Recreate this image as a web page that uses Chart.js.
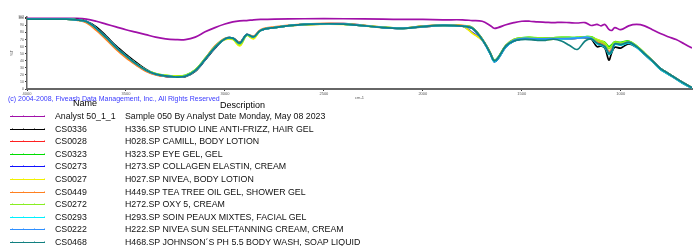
<!DOCTYPE html>
<html>
<head>
<meta charset="utf-8">
<script src="https://cdn.jsdelivr.net/npm/chart.js@4/dist/chart.umd.min.js"></script>
<style>
  body { margin: 0; width: 693px; height: 246px; position: relative; overflow: hidden; background: #fff;
         font-family: "Liberation Sans", Arial, sans-serif; }
  #wrap { position: absolute; left: 0; top: 0; width: 693px; height: 100px; }
  .copy { position: absolute; left: 8px; top: 94px; font-size: 7px; line-height: 9px; color: #3a3aff; white-space: nowrap; }
  .hdr { position: absolute; font-size: 9px; line-height: 11px; color: #000; white-space: nowrap; }
  .row { position: absolute; left: 0; height: 12px; width: 693px; font-size: 8.8px; line-height: 12px; color: #111; white-space: nowrap; }
  .row .sw { position: absolute; left: 10px; top: 6px; width: 35px; height: 1px; }
  .row .tk { position: absolute; top: -1px; width: 1px; height: 2px; opacity: 0.45; }
  .row .nm { position: absolute; left: 55px; }
  .row .ds { position: absolute; left: 125px; }
</style>
</head>
<body>
<div id="wrap"><canvas id="c" width="693" height="100"></canvas></div>
<div class="copy">(c) 2004-2008, Fiveash Data Management, Inc., All Rights Reserved</div>
<div class="hdr" style="left:73px; top:98px;">Name</div>
<div class="hdr" style="left:220px; top:100px;">Description</div>
<div id="legend"></div>
<script>
// wavenumbers (cm-1) shared by every spectrum
const wavenumbers = [4000, 3800, 3750, 3700, 3650, 3600, 3550, 3500, 3450, 3400, 3350, 3300, 3250, 3200, 3150, 3100,
  3050, 3000, 2960, 2925, 2890, 2855, 2820, 2750, 2600, 2400, 2200, 2100, 2000, 1900, 1800, 1750,
  1700, 1660, 1640, 1620, 1580, 1540, 1500, 1460, 1420, 1380, 1340, 1300, 1260, 1220, 1180, 1150,
  1120, 1100, 1080, 1060, 1045, 1030, 1000, 960, 920, 880, 840, 800, 760, 720, 680, 640];

const names = ['Analyst 50_1_1', 'CS0336', 'CS0028', 'CS0323', 'CS0273', 'CS0027', 'CS0449', 'CS0272', 'CS0293', 'CS0222', 'CS0468'];
const descriptions = [
  'Sample 050 By Analyst Date Monday, May 08 2023',
  'H336.SP STUDIO LINE ANTI-FRIZZ, HAIR GEL',
  'H028.SP CAMILL, BODY LOTION',
  'H323.SP EYE GEL, GEL',
  'H273.SP COLLAGEN ELASTIN, CREAM',
  'H027.SP NIVEA, BODY LOTION',
  'H449.SP TEA TREE OIL GEL, SHOWER GEL',
  'H272.SP OXY 5, CREAM',
  'H293.SP SOIN PEAUX MIXTES, FACIAL GEL',
  'H222.SP NIVEA SUN SELFTANNING CREAM, CREAM',
  'H468.SP JOHNSON\u00b4S PH 5.5 BODY WASH, SOAP LIQUID'
];
const colors = ['#a010a8', '#000000', '#ff2020', '#00dd00', '#1010ff', '#f0f000', '#ff8020', '#88ee22', '#00f0ff', '#2f8fff', '#118080'];

// %T values
const analyst = [100, 100, 100, 99, 96, 92, 88, 84, 80.5, 77, 73.5, 71, 70, 70, 73.5, 81,
  87, 92, 95, 96.5, 97, 98, 98.5, 99, 99.5, 99.5, 99, 98.5, 98.5, 98, 98, 97,
  96, 90, 86, 87, 91, 94, 96, 96, 95, 94.5, 94, 94.5, 94, 93.5, 94, 90,
  91.5, 89.5, 91.5, 84.5, 83, 87, 84, 89.5, 91.5, 89.5, 84, 78.5, 74, 70, 64, 58];
const cs0336 = [99, 99, 98.5, 96, 88, 75, 61, 49, 38, 28, 21, 18, 17, 17.5, 25, 41,
  58, 71, 72, 66, 77, 74, 83, 87, 91, 92, 87, 86, 88, 90, 89, 86,
  70, 51, 39, 43, 60, 68, 71, 71, 69.5, 70, 71, 71, 71.5, 72, 72.5, 71,
  60, 61, 58, 41, 52, 59, 58, 64, 59, 49, 39, 28, 21, 14, 7, 1.5];
const cs0028 = [99, 99, 98, 95.5, 86, 73, 59, 47, 36, 27, 21, 18.5, 17, 18, 26, 42,
  59, 71, 72, 65, 77, 74, 83, 87, 91.5, 92, 87, 86, 88.5, 90, 89.5, 86,
  70, 51, 40, 44, 61, 69, 71.5, 72, 71, 71, 71.5, 71.5, 71.5, 72, 73, 72,
  66, 64, 61, 50, 55, 64, 63, 66, 60, 50, 40, 29, 22, 15, 8, 2];
const cs0323 = [99, 99, 98, 95, 85, 72, 58, 46, 36, 27, 22, 19.5, 18.5, 19.5, 27, 43,
  60, 71, 71, 62, 76, 72, 83, 87, 91.5, 92, 87.5, 86.5, 89, 90, 89.5, 87,
  71, 52, 41, 45, 62, 70, 72.5, 73, 72, 72, 72.5, 73, 73, 73, 74, 74,
  70, 68, 66, 60, 63, 67, 66, 68, 61, 51, 40, 29, 22, 15, 8, 2];
const cs0273 = [99, 99, 98, 95.5, 86, 73, 59, 46, 35, 26, 20.5, 18, 17, 18, 26, 42,
  59, 71, 72, 65, 77, 74, 83, 87, 91.5, 92.5, 87, 86, 88.5, 90, 89, 80,
  69, 50, 39, 43, 60, 68, 71, 71.5, 71, 71, 71, 71.5, 71.5, 72, 73, 72,
  66, 64, 61, 52, 56, 64, 63, 66, 60, 50, 40, 29, 22, 15, 8, 2];
const cs0027 = [99, 99, 98, 95, 85, 72, 58, 46, 36, 27, 22, 19.5, 18.5, 19, 27, 43,
  60, 70, 70, 61, 76, 71, 83, 87, 91, 91.5, 87, 86, 88.5, 90, 89, 79,
  69, 51, 40, 44, 61, 69, 71, 71, 70.5, 70, 70.5, 71, 71.5, 72, 73, 73,
  70, 68, 65, 58, 61, 66, 65, 67, 61, 51, 40, 29, 22, 15, 8, 2];
const cs0449 = [99, 99, 97.5, 94, 83, 70, 56, 44, 34, 25, 20, 18, 17, 18, 26, 43,
  61, 72, 72, 66, 77, 75, 84, 88, 92, 92.5, 87.5, 86.5, 89, 90.5, 90, 87,
  71, 52, 40, 44, 62, 70, 72, 72, 71.5, 71.5, 72, 72, 72, 72.5, 73.5, 72.5,
  67, 65, 62, 53, 57, 65, 64, 66, 60, 50, 40, 29, 22, 15, 8, 2];
const cs0272 = [99, 99, 98, 95.5, 86, 73, 59, 47, 36, 27, 21.5, 19, 18, 19, 27, 43,
  60, 71, 71, 63, 76, 73, 83, 87, 91.5, 92, 87.5, 86, 88.5, 90, 89.5, 86.5,
  70, 51, 40, 44, 62, 70, 72.5, 73, 72.5, 72, 72.5, 73, 73, 73, 74, 73.5,
  69, 67, 64, 57, 61, 66, 65, 67, 61, 51, 40, 29, 22, 15, 8, 2];
const cs0293 = [99, 99, 98, 95.5, 86, 73, 59, 47, 36, 27, 21, 18.5, 17, 18, 26, 42,
  59, 71, 72, 65, 77, 74, 83, 87, 91.5, 92, 87, 86, 88.5, 90, 89, 86,
  70, 50, 39, 43, 60, 68, 71, 71, 70.5, 70.5, 71, 71, 71.5, 72, 73, 72,
  64, 62, 59, 49, 53, 63, 62, 65, 59, 49, 39, 28, 21, 14, 7, 1.5];
const cs0222 = [99, 99, 98, 95.5, 86, 73, 59, 47, 36, 27, 21, 18.5, 17, 18, 26, 42,
  59, 71, 72, 65, 77, 74, 83, 87, 91.5, 92, 87, 86, 88.5, 90, 89, 86,
  70, 51, 40, 44, 61, 69, 71.5, 71.5, 71, 71, 71.5, 71.5, 71.5, 72, 73, 72,
  65, 63, 60, 51, 55, 64, 63, 66, 60, 50, 40, 29, 22, 15, 8, 2];
const cs0468 = [99, 99, 98, 95.5, 86, 73, 59, 47, 36, 27, 21, 18.5, 17, 18, 26, 42,
  59, 71, 72, 65, 77, 74, 83, 87, 91.5, 92, 87, 86, 88.5, 90, 89, 86,
  70, 51, 40, 44, 61, 68, 70, 70, 69, 69, 70.5, 68, 62, 56, 68, 71,
  65, 63, 60, 50, 54, 64, 63, 66, 60, 50, 40, 29, 22, 15, 8, 2];

const series = [analyst, cs0336, cs0028, cs0323, cs0273, cs0027, cs0449, cs0272, cs0293, cs0222, cs0468];

const xTicks = [4000, 3500, 3000, 2500, 2000, 1500, 1000];
const yTicks = [0, 10, 20, 30, 40, 50, 60, 70, 80, 90, 100, 102];

new Chart(document.getElementById('c'), {
  type: 'line',
  data: {
    datasets: series.map((vals, i) => ({
      label: names[i],
      data: vals.map((v, j) => ({ x: wavenumbers[j], y: v })),
      borderColor: colors[i],
      borderWidth: 1.7,
      pointRadius: 0,
      tension: 0.35,
      fill: false,
      order: series.length - i
    }))
  },
  options: {
    responsive: false,
    animation: false,
    layout: { padding: { top: 17, right: 1, left: 0, bottom: 0 } },
    plugins: { legend: { display: false }, tooltip: { enabled: false } },
    scales: {
      x: {
        type: 'linear', reverse: true, min: 640, max: 4000,
        afterBuildTicks: s => { s.ticks = xTicks.map(v => ({ value: v })); },
        afterFit: s => { s.height = 11; },
        grid: { drawOnChartArea: false, tickLength: 2, color: '#333' },
        border: { color: '#666', width: 2 },
        ticks: { font: { size: 4 }, color: '#555', padding: 0, maxRotation: 0, autoSkip: false, callback: v => String(v) },
        title: { display: true, text: 'cm-1', font: { size: 4 }, color: '#555', padding: 0 }
      },
      y: {
        min: 0, max: 102,
        afterBuildTicks: s => { s.ticks = yTicks.map(v => ({ value: v })); },
        afterFit: s => { s.width = 27; },
        grid: { drawOnChartArea: false, tickLength: 2, color: '#333' },
        border: { color: '#666', width: 1.5 },
        ticks: { font: { size: 3.5 }, color: '#555', padding: 1, autoSkip: false, callback: v => String(v) },
        title: { display: true, text: '%T', font: { size: 4 }, color: '#555', padding: { top: 9, bottom: 0 } }
      }
    }
  }
});

// legend table
const legend = document.getElementById('legend');
names.forEach((n, i) => {
  const row = document.createElement('div');
  row.className = 'row';
  row.style.top = (110 + i * 12.6) + 'px';
  let ticks = '';
  [2, 13, 24, 34].forEach(x => { ticks += `<div class="tk" style="left:${x}px;background:${colors[i]}"></div>`; });
  row.innerHTML = `<div class="sw" style="background:${colors[i]}">${ticks}</div>` +
    `<span class="nm">${n}</span><span class="ds">${descriptions[i]}</span>`;
  legend.appendChild(row);
});
</script>
</body>
</html>
